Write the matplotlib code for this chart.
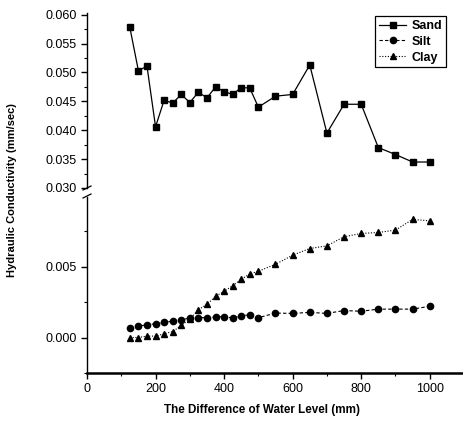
import matplotlib
matplotlib.use('Agg')
import matplotlib.pyplot as plt
from matplotlib.ticker import MultipleLocator, FormatStrFormatter

plt.rcParams['font.family'] = ['Liberation Sans Narrow', 'Liberation Sans', 'DejaVu Sans']

# water level difference (mm)
level = [125, 150, 175, 200, 225, 250, 275, 300, 325, 350, 375, 400, 425,
         450, 475, 500, 550, 600, 650, 700, 750, 800, 850, 900, 950, 1000]

# hydraulic conductivity (mm/sec)
sand = [0.0578, 0.0503, 0.0511, 0.0406, 0.0452, 0.0447, 0.0462, 0.0448, 0.0466,
        0.0456, 0.0475, 0.0467, 0.0462, 0.0474, 0.0473, 0.0440, 0.0459, 0.0462,
        0.0513, 0.0395, 0.0445, 0.0445, 0.0370, 0.0358, 0.0345, 0.0345]
silt = [0.0007, 0.0008, 0.0009, 0.00097, 0.00106, 0.00115, 0.00125, 0.00137, 0.0014,
        0.0014, 0.00144, 0.00148, 0.00137, 0.00153, 0.0016, 0.0014, 0.00172, 0.0017,
        0.00177, 0.0017, 0.0019, 0.00185, 0.002, 0.002, 0.002, 0.0022]
clay = [0.0, 0.0, 0.0001, 0.0001, 0.00026, 0.00042, 0.00085, 0.0013, 0.00196,
        0.00233, 0.0029, 0.00325, 0.00365, 0.0041, 0.00448, 0.00467, 0.00516, 0.0058,
        0.00627, 0.00646, 0.0071, 0.00733, 0.0074, 0.00757, 0.00832, 0.00822]

W, H = 464, 426
fig = plt.figure(figsize=(W / 100, H / 100), dpi=100)
left = 87 / W
ax_top = fig.add_axes([left, 1 - 188 / H, 1 - left, (188 - 13) / H])
ax_bot = fig.add_axes([left, 1 - 373 / H, 1 - left, (373 - 197) / H], sharex=ax_top)

ms = 4.5
l_sand, = ax_top.plot(level, sand, color='black', lw=0.9, ls='-', marker='s', ms=ms, label='Sand')
l_silt, = ax_bot.plot(level, silt, color='black', lw=0.8, ls=(0, (3, 2)), marker='o', ms=ms, label='Silt')
l_clay, = ax_bot.plot(level, clay, color='black', lw=0.8, ls=(0, (1, 1.5)), marker='^', ms=ms + 0.5, label='Clay')

ax_top.set_ylim(0.030, 0.0603)
ax_bot.set_ylim(-0.0025, 0.0099)
ax_bot.set_xlim(0, 1100)

for ax in (ax_top, ax_bot):
    ax.spines['right'].set_visible(False)
    ax.spines['top'].set_visible(False)
    ax.spines['left'].set_linewidth(1.0)
    ax.tick_params(axis='both', direction='out', labelsize=9, width=1.0, length=4)
    ax.tick_params(which='minor', direction='out', width=0.8, length=2.5)

ax_top.spines['bottom'].set_visible(False)
ax_top.tick_params(axis='x', which='both', bottom=False, labelbottom=False)
ax_top.yaxis.set_major_locator(MultipleLocator(0.005))
ax_top.yaxis.set_minor_locator(MultipleLocator(0.0025))
ax_top.yaxis.set_major_formatter(FormatStrFormatter('%.3f'))

ax_bot.spines['bottom'].set_linewidth(1.8)
ax_bot.yaxis.set_major_locator(MultipleLocator(0.005))
ax_bot.yaxis.set_minor_locator(MultipleLocator(0.0025))
ax_bot.yaxis.set_major_formatter(FormatStrFormatter('%.3f'))
ax_bot.xaxis.set_major_locator(MultipleLocator(200))
ax_bot.xaxis.set_minor_locator(MultipleLocator(100))

# break marks on the y axis
for y in (188, 196):
    fig.add_artist(plt.Line2D([(87 - 4) / W, (87 + 4) / W],
                              [1 - (y + 2) / H, 1 - (y - 2) / H],
                              color='black', lw=0.9))

fig.text(12 / W, 1 - 190 / H, 'Hydraulic Conductivity (mm/sec)', rotation=90,
         ha='center', va='center', fontsize=8, fontweight='bold')
fig.text(262 / W, 1 - 410 / H, 'The Difference of Water Level (mm)',
         ha='center', va='center', fontsize=8.4, fontweight='bold')

leg = fig.legend(handles=[l_sand, l_silt, l_clay], loc='upper right',
                 bbox_to_anchor=(452 / W, 1 - 10 / H), fancybox=False,
                 edgecolor='black', framealpha=1, handlelength=2.2,
                 borderpad=0.3, labelspacing=0.3, handletextpad=0.4,
                 prop={'size': 9, 'weight': 'bold'})
leg.get_frame().set_linewidth(0.9)

fig.savefig('out.png', dpi=100)
